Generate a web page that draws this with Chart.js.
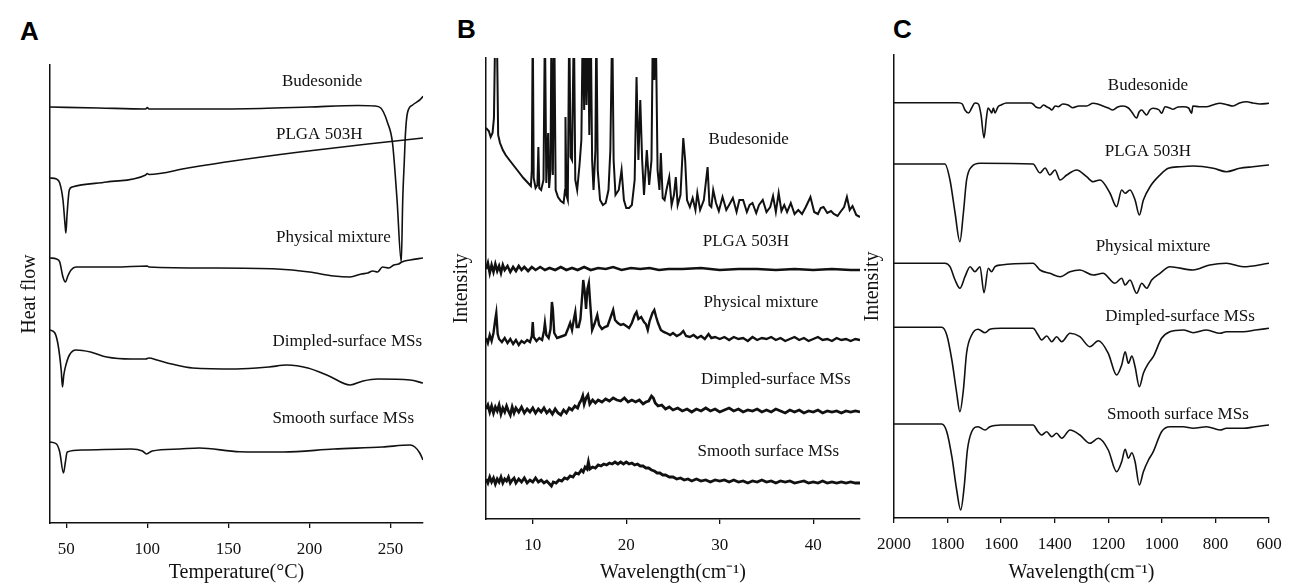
<!DOCTYPE html>
<html>
<head>
<meta charset="utf-8">
<script src="https://cdn.jsdelivr.net/npm/chart.js@4"></script>
<style>
body { margin: 0; background: #fff; width: 1294px; height: 588px; position: relative; overflow: hidden; }
canvas { position: absolute; top: 0; }
.tag { position: absolute; font: bold 26px 'Liberation Sans', Arial, sans-serif; line-height: 26px; color: #000; }
</style>
</head>
<body>
<div class="tag" style="left:20px;top:18px">A</div>
<div class="tag" style="left:457px;top:16px">B</div>
<div class="tag" style="left:893px;top:16px">C</div>
<canvas id="dsc" width="445" height="588" style="left:0"></canvas>
<canvas id="xrd" width="430" height="588" style="left:440px"></canvas>
<canvas id="ftir" width="444" height="588" style="left:850px"></canvas>
<script>
const seriesNames = ['Budesonide', 'PLGA 503H', 'Physical mixture', 'Dimpled-surface MSs', 'Smooth surface MSs'];

// A - DSC, [temperature, heat flow (arb.)]
const dscTicks = [50, 100, 150, 200, 250];
const dscBud = [[40,416],[70,415],[99,414],[100,415.5],[101,414],[130,414],[170,414.5],[200,416],[230,417.5],[240,417],[244,415],[245.6,411],[248,401],[251.2,380],[254,323],[256.6,261],[257.5,323],[258.5,363],[259.2,390],[260.4,410],[263.6,418],[269.7,426],[270,427]];
const dscPlga = [[40,345],[44,344],[46,340],[48,323],[49.3,298],[49.8,290],[50.5,308],[51.9,333],[53.7,336],[75,341],[99,348],[100,349.5],[101,348.5],[125,355],[152.8,362],[194,371],[236,379],[270,385]];
const dscMix = [[40,265],[44,264],[46,261],[48,246],[49.5,241],[51,247],[53,253],[56,256],[80,256],[100,257],[101,256],[140,255],[180,254],[200,251],[215,247],[225,246],[232,249],[236,250],[239,252],[242,251],[245,256],[249,255],[252,258],[255,259],[257,261],[262,263],[270,265]];
const dscDimp = [[40,193],[43,190],[45,178],[46.9,153],[47.7,136],[48.5,148],[49.8,158],[52,168],[56,173],[65,171],[75,166],[90,164],[99,164],[101,165],[106,163],[115,159],[128,155],[155,154],[175,156],[186,158],[199,155],[212,147],[225,138],[233,142],[242,144],[262,143],[270,140]];
const dscSmooth = [[40,81],[44,79],[46,71],[48.3,50],[49.5,61],[50.6,71],[60,73],[90,74],[97,72],[99.5,69],[103,72],[120,74],[132,75],[157,71.3],[184,71],[215,74],[245,76],[262,78],[265,76],[268,70],[270,63]];

// B - XRD, [2theta, intensity (arb.)]
const xrdTicks = [10, 20, 30, 40];
const xrdBud = [[5.0,391],[5.3,388],[5.5,382],[5.7,386],[5.85,401],[6.0,499],[6.15,499],[6.3,384],[6.5,376],[6.8,369],[7.1,364],[7.5,359],[8.0,353],[8.5,347],[9.0,341],[9.4,337],[9.8,333],[9.9,349],[10.0,499],[10.1,341],[10.3,331],[10.5,334],[10.6,372],[10.7,331],[10.9,329],[11.15,339],[11.3,499],[11.45,336],[11.55,369],[11.65,386],[11.75,331],[11.9,349],[12.0,499],[12.15,344],[12.3,499],[12.45,329],[12.7,322],[13.0,318],[13.3,316],[13.45,329],[13.5,402],[13.6,324],[13.75,319],[13.9,499],[14.05,362],[14.2,359],[14.4,499],[14.55,339],[14.75,329],[15.0,354],[15.2,379],[15.35,499],[15.5,409],[15.6,499],[15.75,414],[15.9,499],[16.05,384],[16.2,499],[16.35,359],[16.5,329],[16.7,369],[16.8,499],[16.95,349],[17.2,319],[17.5,314],[17.8,316],[18.1,329],[18.3,369],[18.5,499],[18.65,359],[18.85,324],[19.2,329],[19.5,349],[19.75,319],[20.0,311],[20.3,311],[20.6,314],[20.9,339],[21.1,442],[21.3,359],[21.5,419],[21.7,359],[21.9,324],[22.2,369],[22.45,334],[22.7,359],[22.85,499],[23.0,439],[23.15,499],[23.35,349],[23.55,329],[23.7,366],[23.9,321],[24.1,319],[24.3,329],[24.6,342],[24.85,314],[25.1,324],[25.3,342],[25.5,314],[25.8,324],[26.1,381],[26.3,359],[26.5,319],[26.8,312],[27.1,321],[27.4,309],[27.6,326],[27.9,309],[28.3,319],[28.7,352],[28.9,314],[29.1,312],[29.3,329],[29.6,316],[29.9,308],[30.3,322],[30.7,309],[31.0,314],[31.4,321],[31.8,307],[32.1,319],[32.5,319],[32.9,307],[33.2,314],[33.5,316],[33.9,306],[34.2,314],[34.6,319],[35.0,307],[35.4,312],[35.7,323],[36.0,307],[36.3,326],[36.6,308],[36.9,314],[37.2,307],[37.6,316],[38.0,305],[38.4,309],[38.8,305],[39.2,312],[39.7,322],[40.1,307],[40.5,305],[40.8,311],[41.1,312],[41.5,306],[41.9,308],[42.2,305],[42.6,303],[42.9,307],[43.3,312],[43.6,322],[43.9,309],[44.2,313],[44.6,304],[45.0,302]];
const xrdPlga = [[5.0,250],[5.2,256],[5.4,246],[5.6,254],[5.8,247],[6.0,255],[6.2,248],[6.4,253],[6.6,246],[6.8,254],[7.0,249],[7.3,253],[7.6,247],[7.9,252],[8.2,248],[8.5,253],[8.8,249],[9.1,252],[9.5,248],[9.9,252],[10.3,249],[10.8,252],[11.3,249],[11.8,251],[12.4,249],[13.0,252],[13.6,249],[14.2,251],[14.8,249],[15.5,252],[16.2,249],[17.0,251],[17.8,250],[18.6,252],[19.5,249],[20.5,251],[21.5,250],[22.5,251],[23.5,249],[24.5,250],[26,250],[28,251],[30,249],[32,250],[34,250],[36,249],[38,250],[40,249],[42,250],[44,249],[45,249]];
const xrdMix = [[5.0,181],[5.2,176],[5.4,184],[5.6,178],[5.8,186],[6.0,200],[6.1,206],[6.25,185],[6.4,180],[6.7,177],[7.0,181],[7.3,176],[7.6,180],[7.9,175],[8.2,179],[8.5,174],[8.8,178],[9.1,176],[9.4,179],[9.7,177],[9.9,183],[10.0,197],[10.1,182],[10.4,178],[10.7,181],[11.0,179],[11.2,188],[11.3,196],[11.45,184],[11.7,181],[11.9,190],[12.05,217],[12.15,210],[12.3,186],[12.6,181],[12.9,182],[13.2,183],[13.5,184],[13.8,191],[14.0,196],[14.2,189],[14.4,200],[14.55,207],[14.7,192],[14.9,192],[15.1,200],[15.3,225],[15.4,239],[15.55,228],[15.7,210],[15.85,230],[16.0,236],[16.15,215],[16.35,189],[16.6,195],[16.9,204],[17.1,194],[17.4,190],[17.7,192],[18.0,193],[18.3,201],[18.6,209],[18.8,199],[19.1,196],[19.4,194],[19.7,195],[20.0,193],[20.3,191],[20.6,196],[20.9,204],[21.1,207],[21.3,200],[21.6,202],[21.9,197],[22.1,195],[22.3,189],[22.5,198],[22.8,206],[23.0,209],[23.2,202],[23.4,196],[23.7,189],[24.0,187],[24.3,186],[24.7,184],[25.0,186],[25.4,183],[25.8,185],[26.1,188],[26.4,183],[26.8,182],[27.2,184],[27.6,181],[28.0,183],[28.4,180],[28.8,185],[29.1,181],[29.5,182],[30.0,180],[30.5,182],[31.0,179],[31.5,182],[32.0,180],[32.5,181],[33.0,178],[33.5,182],[34.0,179],[34.5,181],[35.0,180],[35.5,182],[36.0,179],[36.5,181],[37.0,178],[37.5,180],[38.0,182],[38.5,179],[39.0,181],[39.5,178],[40.0,180],[40.5,182],[41.0,179],[41.5,180],[42.0,178],[42.5,181],[43.0,179],[43.5,180],[44.0,178],[44.5,180],[45.0,179]];
const xrdDimp = [[5.0,110],[5.2,114],[5.4,107],[5.6,113],[5.8,106],[6.0,112],[6.2,108],[6.4,114],[6.6,105],[6.8,111],[7.0,107],[7.2,113],[7.4,108],[7.6,104],[7.8,112],[8.0,106],[8.2,111],[8.5,107],[8.8,112],[9.1,106],[9.4,110],[9.7,107],[10.0,111],[10.3,106],[10.6,110],[10.9,107],[11.2,111],[11.5,106],[11.8,109],[12.1,105],[12.4,110],[12.7,106],[13.0,104],[13.3,109],[13.6,106],[13.9,111],[14.2,109],[14.5,113],[14.8,111],[15.0,116],[15.2,119],[15.35,123],[15.5,115],[15.7,121],[15.9,124],[16.1,115],[16.4,119],[16.7,116],[17.0,119],[17.4,117],[17.8,120],[18.2,118],[18.6,121],[19.0,119],[19.4,118],[19.8,121],[20.2,117],[20.6,119],[21.0,117],[21.4,119],[21.8,115],[22.1,117],[22.4,118],[22.7,123],[22.9,121],[23.1,116],[23.4,113],[23.8,114],[24.2,110],[24.6,112],[25.0,109],[25.5,111],[26.0,108],[26.5,110],[27.0,107],[27.5,110],[28.0,108],[28.5,111],[29.0,108],[29.5,110],[30.0,107],[30.5,109],[31.0,111],[31.5,108],[32.0,110],[32.5,107],[33.0,109],[33.5,108],[34.0,110],[34.5,107],[35.0,109],[35.5,107],[36.0,110],[36.5,108],[37.0,106],[37.5,109],[38.0,107],[38.5,109],[39.0,106],[39.5,108],[40.0,107],[40.5,109],[41.0,106],[41.5,108],[42.0,107],[42.5,108],[43.0,106],[43.5,108],[44.0,107],[44.5,108],[45.0,107]];
const xrdSmooth = [[5.0,40],[5.2,36],[5.4,42],[5.6,37],[5.8,41],[6.0,35],[6.2,40],[6.4,37],[6.6,42],[6.8,36],[7.0,40],[7.2,38],[7.4,42],[7.6,36],[7.8,39],[8.0,41],[8.2,36],[8.5,40],[8.8,37],[9.1,41],[9.4,36],[9.7,39],[10.0,37],[10.3,41],[10.6,37],[10.9,39],[11.2,36],[11.5,38],[11.8,35],[12.0,33],[12.2,37],[12.5,36],[12.8,39],[13.1,38],[13.4,41],[13.7,40],[14.0,43],[14.3,42],[14.6,46],[14.9,45],[15.2,49],[15.4,47],[15.6,52],[15.8,50],[15.95,57],[16.1,50],[16.4,52],[16.7,51],[17.0,54],[17.3,53],[17.6,55],[17.9,54],[18.2,56],[18.5,55],[18.8,57],[19.1,55],[19.4,57],[19.7,55],[20.0,57],[20.3,55],[20.6,56],[20.9,54],[21.2,55],[21.5,53],[21.8,53],[22.1,51],[22.4,51],[22.7,49],[23.0,48],[23.3,46],[23.6,46],[23.9,44],[24.2,44],[24.6,42],[25.0,42],[25.4,40],[25.8,41],[26.2,39],[26.6,40],[27.0,38],[27.5,40],[28.0,38],[28.5,39],[29.0,37],[29.5,39],[30.0,38],[30.5,39],[31.0,37],[31.5,39],[32.0,37],[32.5,38],[33.0,36],[33.5,38],[34.0,37],[34.5,39],[35.0,37],[35.5,38],[36.0,36],[36.5,38],[37.0,37],[37.5,38],[38.0,36],[38.5,37],[39.0,38],[39.5,36],[40.0,37],[40.5,36],[41.0,38],[41.5,36],[42.0,37],[42.5,36],[43.0,37],[43.5,36],[44.0,37],[44.5,36],[45.0,36]];

// C - FTIR, [wavenumber, intensity (arb.)]
const ftirTicks = [2000, 1800, 1600, 1400, 1200, 1000, 800, 600];
const ftirBud = [[2000,415.3],[1760,415.3],[1745,414],[1735,408],[1722,405],[1710,410],[1698,415],[1685,414],[1675,403],[1664,380],[1655,400],[1649,410],[1640,407],[1635,405],[1629,410],[1623,405],[1612,411],[1600,413],[1580,415],[1490,415],[1481,414],[1470,411],[1455,410],[1442,413],[1430,411.3],[1420,410],[1411,408],[1398,412],[1387,411.3],[1370,414],[1350,413],[1332,410.3],[1310,412],[1281,412],[1257,414.7],[1240,414],[1220,412],[1200,410],[1183,408],[1165,411],[1145,412],[1125,410],[1113,406.3],[1094,400],[1085,406],[1075,408],[1065,405],[1057,403],[1045,408],[1033,409.7],[1010,408],[1001,404.7],[988,411.3],[970,410],[959,408.7],[940,411],[920,411.3],[900,410],[889,404.7],[884,412],[860,411.3],[833,411.3],[810,413],[783,414.7],[760,413.5],[734,412],[710,415],[683,416.3],[660,415],[634,414],[600,414.7]];
const ftirPlga = [[2000,354],[1810,354],[1791,338],[1772,305],[1754,276.3],[1741,305],[1729,338],[1710,351.3],[1679,354.7],[1481,354],[1455,345],[1436,350],[1418,343],[1399,348],[1380,338],[1355,343],[1318,348],[1281,341.3],[1257,336.3],[1231,338],[1194,325],[1169,311.3],[1150,328],[1137,324.7],[1119,328],[1100,318],[1084,303],[1069,318],[1044,331.3],[1007,343],[976,349.7],[932,351.3],[883,352],[808,349.7],[759,346.3],[709,349.7],[660,351.3],[600,353]];
const ftirMix = [[2000,254.7],[1810,254.7],[1791,251.3],[1772,238],[1754,229.7],[1735,241.3],[1716,251.3],[1698,246.3],[1679,251.3],[1664,225.3],[1648,249.7],[1636,246.3],[1623,251.3],[1600,253],[1481,254.7],[1455,248],[1418,244.7],[1380,241.3],[1343,246.3],[1306,248],[1257,243],[1220,244.7],[1175,234.7],[1150,239.7],[1137,233],[1119,238],[1094,224.7],[1075,234.7],[1057,229.7],[1038,238],[1007,244.7],[970,251.3],[884,248],[821,253],[759,254.7],[696,251.3],[600,254.7]];
const ftirDimp = [[2000,190.7],[1822,190.7],[1803,183],[1784,158],[1766,125],[1754,106.3],[1741,128],[1729,165],[1710,183],[1686,188.7],[1660,185.3],[1642,188.7],[1600,189.7],[1481,189.7],[1462,183],[1449,178],[1430,182],[1411,176.3],[1393,181.3],[1374,176.3],[1343,184.7],[1306,181.3],[1269,171.3],[1237,177.3],[1200,164.7],[1169,143],[1150,153],[1137,166.3],[1125,154.7],[1112,162],[1100,151.3],[1084,131.3],[1069,144.7],[1050,154.7],[1032,161.3],[1001,179.7],[970,186.3],[920,188],[883,185.3],[833,188],[783,184.7],[759,186.3],[696,186.3],[650,188],[600,189.7]];
const ftirSmooth = [[2000,94],[1822,94],[1803,86.3],[1784,61.3],[1766,28],[1751,8],[1738,31.3],[1726,68],[1710,86.3],[1686,91.3],[1660,88],[1642,91.3],[1600,93],[1481,93],[1462,86.3],[1449,83],[1430,86.3],[1411,81.3],[1393,84.7],[1374,79.7],[1343,88],[1306,83],[1269,74.7],[1237,79.7],[1200,68],[1169,46.3],[1150,56.3],[1137,68.7],[1125,59.7],[1112,65.3],[1100,56.3],[1084,33],[1069,46.3],[1050,58],[1032,66.3],[1001,86.3],[970,91.3],[920,91.3],[883,89.7],[833,91.3],[783,88],[759,89.7],[696,89.7],[650,91.3],[600,93]];

const serif = 'Liberation Serif';

const curveLabels = {
    id: 'curveLabels',
    afterDatasetsDraw(chart, args, opts) {
        const ctx = chart.ctx;
        const xs = chart.scales.x, ys = chart.scales.y;
        ctx.save();
        ctx.font = '17px "' + serif + '"';
        ctx.fillStyle = '#111';
        ctx.textAlign = 'center';
        ctx.textBaseline = 'middle';
        opts.at.forEach((p, i) => {
            ctx.fillText(seriesNames[i], xs.getPixelForValue(p[0]), ys.getPixelForValue(p[1]));
        });
        ctx.restore();
    }
};

function panel(id, cfg) {
    const ctx = document.getElementById(id).getContext('2d');
    return new Chart(ctx, {
        type: 'line',
        data: {
            datasets: cfg.series.map((s, i) => ({
                label: seriesNames[i],
                data: s.map(p => ({ x: p[0], y: p[1] })),
                borderColor: '#111',
                borderWidth: cfg.lineWidths[i],
                pointRadius: 0,
                fill: false,
                cubicInterpolationMode: cfg.smooth ? 'monotone' : 'default',
                tension: 0
            }))
        },
        options: {
            responsive: false,
            animation: false,
            events: [],
            layout: { padding: { top: cfg.top, right: cfg.right, left: 0, bottom: 0 } },
            plugins: {
                legend: { display: false },
                tooltip: { enabled: false },
                curveLabels: { at: cfg.labelsAt }
            },
            scales: {
                x: {
                    type: 'linear',
                    min: cfg.xmin,
                    max: cfg.xmax,
                    reverse: !!cfg.reverse,
                    afterBuildTicks: scale => { scale.ticks = cfg.ticks.map(v => ({ value: v })); },
                    afterFit: scale => { scale.height = cfg.xh; scale.paddingLeft = 0; scale.paddingRight = 0; },
                    grid: { display: true, drawOnChartArea: false, drawTicks: true, tickLength: 5, color: '#111', lineWidth: 1.3 },
                    border: { display: true, color: '#111', width: 1.5 },
                    ticks: {
                        color: '#111', font: { family: serif, size: 17 }, padding: 11, maxRotation: 0, autoSkip: false,
                        callback: v => String(v)
                    },
                    title: { display: true, text: cfg.xTitle, color: '#111', font: { family: serif, size: 20 }, padding: { top: 0, bottom: 3 } }
                },
                y: {
                    type: 'linear',
                    min: 0,
                    max: cfg.ymax,
                    afterFit: scale => { scale.width = cfg.yw; },
                    grid: { display: false },
                    border: { display: true, color: '#111', width: 1.5 },
                    ticks: { display: false },
                    title: { display: true, text: cfg.yTitle, color: '#111', font: { family: serif, size: 20 }, padding: { top: cfg.yTitlePad, bottom: 0 } }
                }
            }
        },
        plugins: [curveLabels]
    });
}

panel('dsc', {
    series: [dscBud, dscPlga, dscMix, dscDimp, dscSmooth],
    lineWidths: [1.6, 1.6, 1.6, 1.6, 1.6],
    smooth: true,
    xmin: 40, xmax: 270, ticks: dscTicks, ymax: 458,
    top: 65, right: 22, xh: 65, yw: 50, yTitlePad: 18,
    xTitle: 'Temperature(°C)', yTitle: 'Heat flow',
    labelsAt: [[207.8, 441], [206, 388], [214.7, 285], [223.3, 181], [220.8, 104]]
});

panel('xrd', {
    series: [xrdBud, xrdPlga, xrdMix, xrdDimp, xrdSmooth],
    lineWidths: [2, 2.6, 2.4, 2.8, 2.8],
    smooth: false,
    xmin: 5, xmax: 45, ticks: xrdTicks, ymax: 461,
    top: 58, right: 10, xh: 69, yw: 46, yTitlePad: 10,
    xTitle: 'Wavelength(cm⁻¹)', yTitle: 'Intensity',
    labelsAt: [[33.1, 379], [32.8, 277], [34.4, 216], [36.0, 139], [35.2, 67]]
});

panel('ftir', {
    series: [ftirBud, ftirPlga, ftirMix, ftirDimp, ftirSmooth],
    lineWidths: [1.6, 1.6, 1.6, 1.6, 1.6],
    smooth: true,
    xmin: 600, xmax: 2000, reverse: true, ticks: ftirTicks, ymax: 463,
    top: 55, right: 25, xh: 70, yw: 44, yTitlePad: 11,
    xTitle: 'Wavelength(cm⁻¹)', yTitle: 'Intensity',
    labelsAt: [[1052, 432], [1052, 366], [1033, 271], [932, 201], [940, 103]]
});
</script>
</body>
</html>
